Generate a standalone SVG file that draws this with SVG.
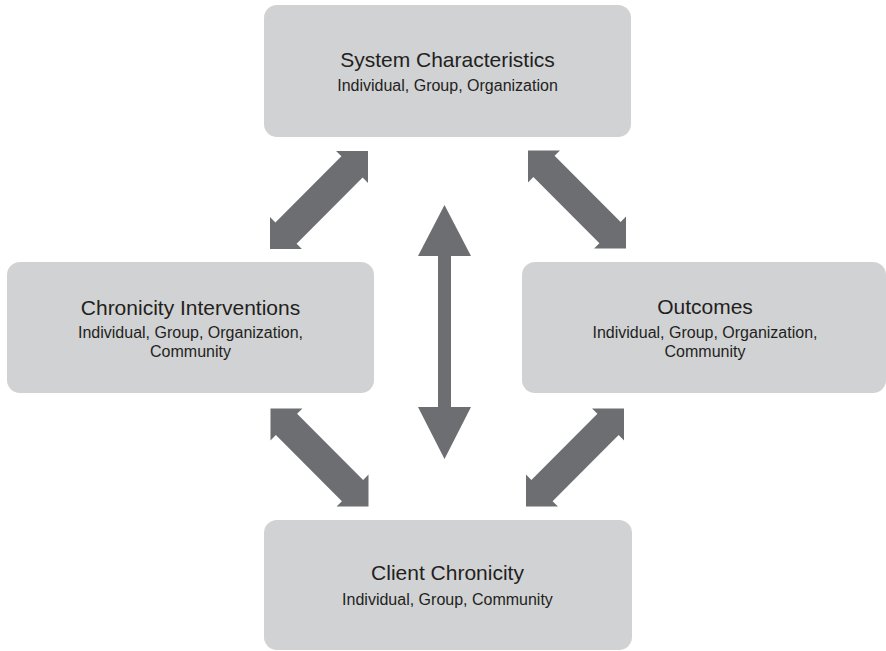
<svg xmlns="http://www.w3.org/2000/svg" xmlns:xlink="http://www.w3.org/1999/xlink" width="886" height="651" viewBox="0 0 886 651">
  <style>
    .box { fill: #d1d2d4; }
    .arrow { fill: #6d6e71; }
    .title { font-family: "Liberation Sans", Arial, sans-serif; font-size: 21px; fill: #231f20; text-anchor: middle; }
    .sub { font-family: "Liberation Sans", Arial, sans-serif; font-size: 16px; fill: #231f20; text-anchor: middle; }
  </style>
  <defs>
    <path id="darrow" class="arrow" d="M -69.3 0 L -46.7 -22.6 L -46.7 -15 L 46.7 -15 L 46.7 -22.6 L 69.3 0 L 46.7 22.6 L 46.7 15 L -46.7 15 L -46.7 22.6 Z"/>
  </defs>
  <rect width="886" height="651" fill="#ffffff"/>

  <g id="node-system">
    <rect class="box" x="264" y="5" width="367" height="132" rx="13" ry="13"/>
    <text class="title" x="447.5" y="67">System Characteristics</text>
    <text class="sub" x="447.5" y="91">Individual, Group, Organization</text>
  </g>

  <g id="node-interventions">
    <rect class="box" x="7" y="262" width="367" height="131" rx="13" ry="13"/>
    <text class="title" x="190.5" y="315">Chronicity Interventions</text>
    <text class="sub" x="190.5" y="338">Individual, Group, Organization,</text>
    <text class="sub" x="190.5" y="357">Community</text>
  </g>

  <g id="node-outcomes">
    <rect class="box" x="522" y="262" width="364" height="131" rx="13" ry="13"/>
    <text class="title" x="705" y="314">Outcomes</text>
    <text class="sub" x="705" y="338">Individual, Group, Organization,</text>
    <text class="sub" x="705" y="357">Community</text>
  </g>

  <g id="node-client">
    <rect class="box" x="264" y="520" width="368" height="130" rx="13" ry="13"/>
    <text class="title" x="447.5" y="580">Client Chronicity</text>
    <text class="sub" x="447.5" y="605">Individual, Group, Community</text>
  </g>

  <g id="connectors">
    <use xlink:href="#darrow" href="#darrow" transform="translate(319 200) rotate(-45)"/>
    <use xlink:href="#darrow" href="#darrow" transform="translate(577 199.5) rotate(45)"/>
    <use xlink:href="#darrow" href="#darrow" transform="translate(319.5 457.5) rotate(45)"/>
    <use xlink:href="#darrow" href="#darrow" transform="translate(575 457.5) rotate(-45)"/>
    <polygon class="arrow" points="444.5,205 471,256 451,256 451,407 471,407 444.5,459 418,407 438,407 438,256 418,256"/>
  </g>
</svg>
